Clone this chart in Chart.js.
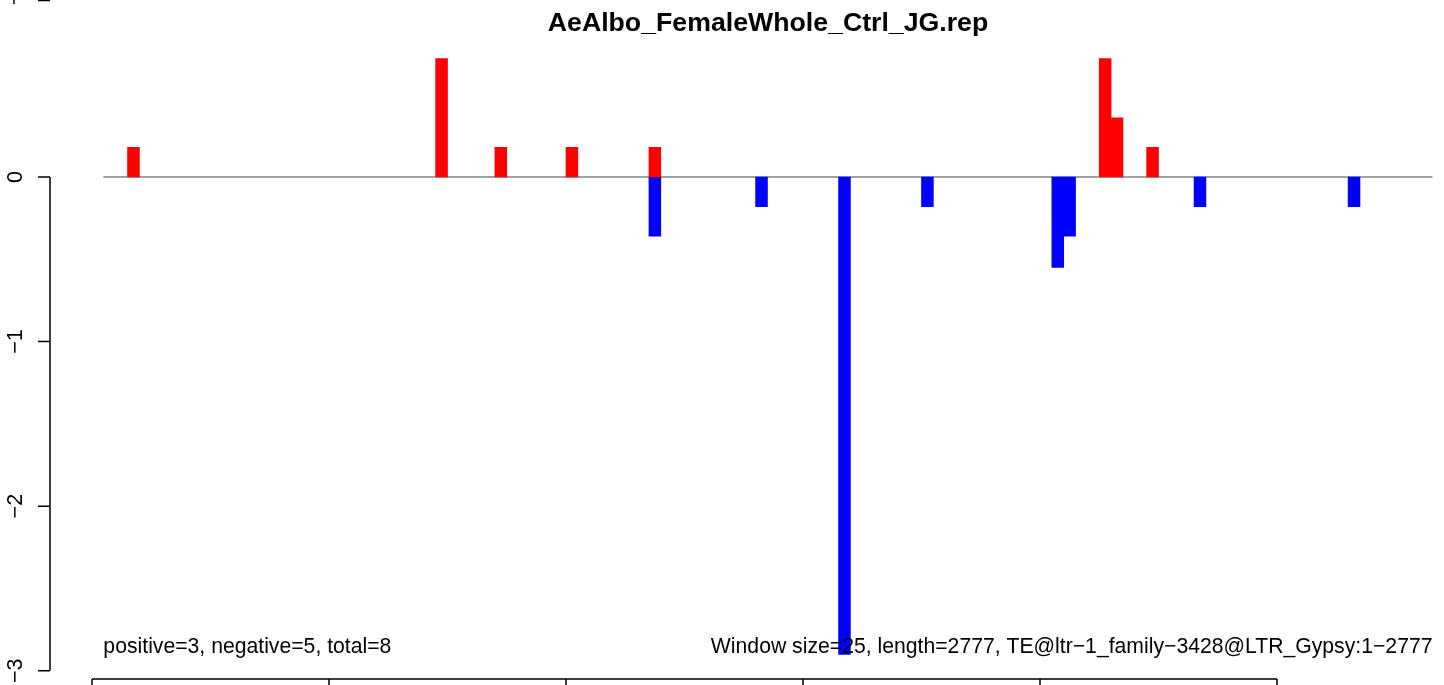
<!DOCTYPE html>
<html>
<head>
<meta charset="utf-8">
<script src="https://cdn.jsdelivr.net/npm/chart.js@4/dist/chart.umd.min.js"></script>
<style>
  html, body { margin: 0; padding: 0; background: #fff; }
  canvas { display: block; }
</style>
</head>
<body>
<canvas id="chart" width="1444" height="685"></canvas>
<script>
// window start (bp) and value of each bar
const windowSize = 25;
const posStarts = [75, 725, 850, 1000, 1175, 2125, 2150, 2225];
const posValues = [0.18, 0.72, 0.18, 0.18, 0.18, 0.72, 0.36, 0.18];
const negStarts = [1175, 1400, 1575, 1750, 2025, 2050, 2325, 2650];
const negValues = [-0.36, -0.18, -2.9, -0.18, -0.55, -0.36, -0.18, -0.18];

const yTicks = [-3, -2, -1, 0];
const xTicks = [0, 500, 1000, 1500, 2000, 2500];
const baseLine = [24, 2828]; // bp range of the zero line

const title = "AeAlbo_FemaleWhole_Ctrl_JG.rep";
const leftNote = "positive=3, negative=5, total=8";
const rightNote = "Window size=25, length=2777, TE@ltr\u22121_family\u22123428@LTR_Gypsy:1\u22122777";

const FONT = '"Liberation Sans", Arial, sans-serif';

function toPoints(starts, values) {
  return starts.map((s, i) => ({ x: s + windowSize / 2, y: values[i] }));
}

const axesPlugin = {
  id: "rAxes",
  afterDatasetsDraw(chart) {
    const ctx = chart.ctx;
    const x = chart.scales.x;
    ctx.save();
    ctx.fillStyle = "#000";
    ctx.font = "21.2px " + FONT;
    ctx.textBaseline = "alphabetic";
    ctx.textAlign = "left";
    ctx.fillText(leftNote, x.getPixelForValue(baseLine[0]), 653);
    ctx.textAlign = "right";
    ctx.fillText(rightNote, x.getPixelForValue(baseLine[1]), 653);
    ctx.restore();
  },
  afterDraw(chart) {
    const ctx = chart.ctx;
    const x = chart.scales.x, y = chart.scales.y;
    const area = chart.chartArea;
    ctx.save();
    ctx.strokeStyle = "#000";
    ctx.fillStyle = "#000";
    ctx.lineWidth = 1.5;

    // y axis
    const ax = area.left;
    ctx.beginPath();
    ctx.moveTo(ax, y.getPixelForValue(yTicks[0]));
    ctx.lineTo(ax, y.getPixelForValue(yTicks[yTicks.length - 1]));
    yTicks.forEach(t => {
      const py = y.getPixelForValue(t);
      ctx.moveTo(ax, py);
      ctx.lineTo(ax - 12, py);
    });
    ctx.stroke();
    ctx.font = "21.5px " + FONT;
    ctx.textAlign = "center";
    ctx.textBaseline = "alphabetic";
    yTicks.forEach(t => {
      const py = y.getPixelForValue(t);
      ctx.save();
      ctx.translate(21.5, py);
      ctx.rotate(-Math.PI / 2);
      ctx.fillText(t < 0 ? "\u2212" + Math.abs(t) : String(t), 0, 0);
      ctx.restore();
    });

    // x axis (labels fall below the picture)
    const ay = area.bottom;
    ctx.beginPath();
    ctx.moveTo(x.getPixelForValue(xTicks[0]), ay);
    ctx.lineTo(x.getPixelForValue(xTicks[xTicks.length - 1]), ay);
    xTicks.forEach(t => {
      const px = x.getPixelForValue(t);
      ctx.moveTo(px, ay);
      ctx.lineTo(px, ay + 12);
    });
    ctx.stroke();
    xTicks.forEach(t => ctx.fillText(String(t), x.getPixelForValue(t), ay + 36));

    // remnant of the panel above
    ctx.beginPath();
    ctx.moveTo(ax - 12, 0.5);
    ctx.lineTo(ax, 0.5);
    ctx.moveTo(14, 0);
    ctx.lineTo(14, 4);
    ctx.stroke();

    // title
    ctx.font = "bold 26.7px " + FONT;
    ctx.textAlign = "center";
    ctx.fillText(title, 768, 30.5);
    ctx.restore();
  }
};

new Chart(document.getElementById("chart"), {
  type: "bar",
  data: {
    datasets: [
      { type: "bar", data: toPoints(posStarts, posValues), backgroundColor: "#ff0000", order: 0 },
      { type: "bar", data: toPoints(negStarts, negValues), backgroundColor: "#0000ff", order: 0 },
      {
        type: "line",
        data: baseLine.map(v => ({ x: v, y: 0 })),
        borderColor: "#808080",
        borderWidth: 1.4,
        pointRadius: 0,
        order: 1
      }
    ]
  },
  options: {
    responsive: false,
    animation: false,
    events: [],
    layout: { padding: { left: 50, right: 0, top: 45.3, bottom: 6 } },
    datasets: {
      bar: { barPercentage: 1, categoryPercentage: 1, grouped: false, borderWidth: 0 }
    },
    plugins: { legend: { display: false }, title: { display: false }, tooltip: { enabled: false } },
    scales: {
      x: { type: "linear", min: -88.6, max: 2852.3, offset: false, display: false },
      y: { type: "linear", min: -3.05, max: 0.8, display: false }
    }
  },
  plugins: [axesPlugin]
});
</script>
</body>
</html>
